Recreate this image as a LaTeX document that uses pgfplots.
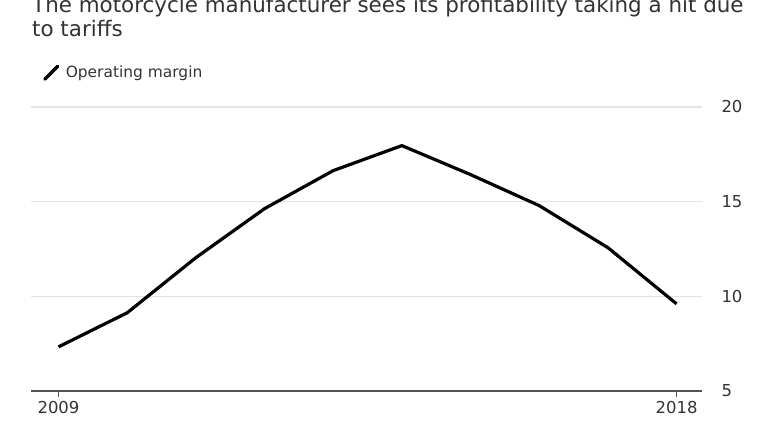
\documentclass[border=0pt]{standalone}
\usepackage{pgfplots}
\pgfplotsset{compat=1.18}
\usepackage{fontspec}
\setmainfont{DejaVu Sans}
\definecolor{txt}{HTML}{333333}
\definecolor{gridc}{HTML}{E3E3E3}
\definecolor{axisc}{HTML}{555555}
\begin{document}
\begin{tikzpicture}[x=1bp,y=1bp]
\useasboundingbox (0,0) rectangle (768,432);
% title, its first line cut at the top as in the source
\node[anchor=base west, text=txt, font=\fontsize{21.5}{24}\selectfont, inner sep=0pt] at (32,419)
  {The motorcycle manufacturer sees its profitability taking a hit due};
\node[anchor=base west, text=txt, font=\fontsize{21.5}{24}\selectfont, inner sep=0pt] at (32,395)
  {to tariffs};
\begin{axis}[
    at={(31bp,41bp)}, anchor=south west,
    scale only axis, width=671bp, height=284bp,
    xmin=2008.6, xmax=2018.37, ymin=5, ymax=20,
    axis x line*=bottom, axis y line*=right,
    y axis line style={draw=none},
    x axis line style={draw=axisc, line width=1.6bp, -},
    xtick={2009,2018},
    x tick label style={/pgf/number format/1000 sep={}, yshift=-1bp},
    xtick style={draw=axisc, line width=0.8bp},
    tick align=outside, major tick length=6bp,
    ytick={5,10,15,20},
    ytick style={draw=none},
    yticklabel pos=right,
    yticklabel style={anchor=west, xshift=10bp},
    ymajorgrids, grid style={gridc, line width=1.2bp},
    tick label style={text=txt, font=\fontsize{16.5}{19}\selectfont},
    /pgf/number format/assume math mode=true,
    clip=false,
    legend style={at={(0,1)}, anchor=south west, draw=none, fill=none,
      xshift=9bp, yshift=24bp, font=\fontsize{15.5}{18}\selectfont, text=txt},
    legend cell align=left,
    legend image code/.code={%
      \draw[line width=3.2bp, black, line cap=round] (1bp,-7bp) -- (14bp,6bp);
      \path[draw=none] (0bp,0bp) -- (20bp,0bp);},
  ]
  \addplot[black, line width=3.2bp, line join=round] coordinates {
    (2009,7.33)
    (2010,9.13)
    (2011,12.04)
    (2012,14.63)
    (2013,16.64)
    (2014,17.96)
    (2015,16.43)
    (2016,14.79)
    (2017,12.57)
    (2018,9.6)
  };
  \legend{Operating margin}
\end{axis}
\end{tikzpicture}
\end{document}
